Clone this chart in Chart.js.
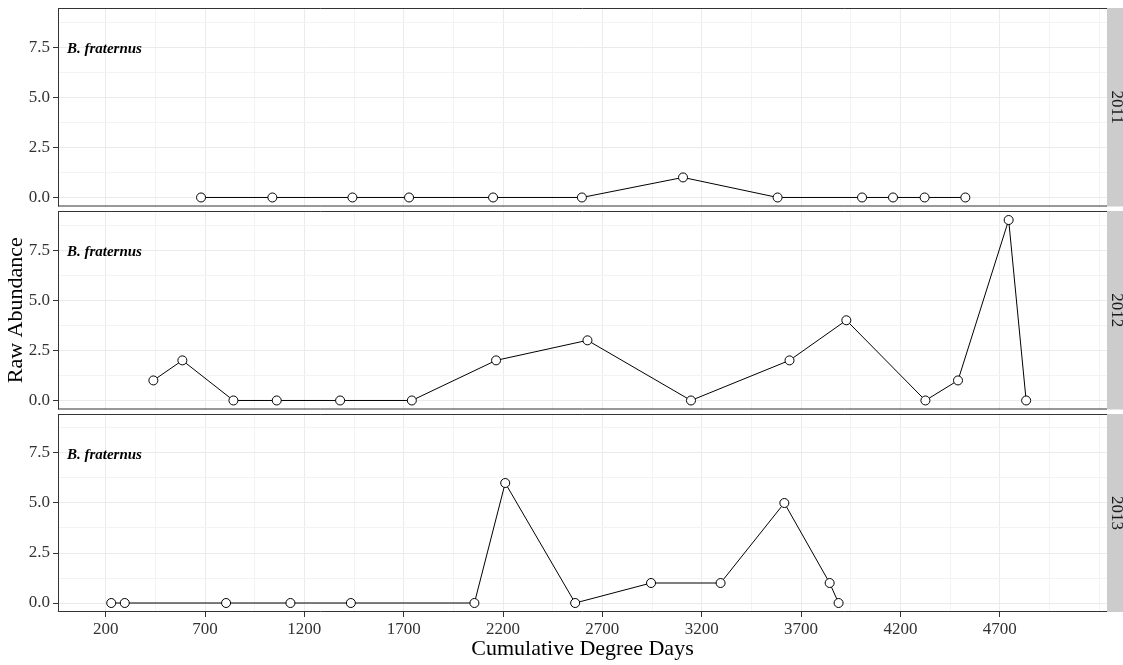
<!DOCTYPE html>
<html>
<head>
<meta charset="utf-8">
<script src="https://cdn.jsdelivr.net/npm/chart.js@4/dist/chart.umd.min.js"></script>
<style>
html,body{margin:0;padding:0;background:#fff;}
#wrap{position:relative;width:1123px;height:665px;overflow:hidden;background:#fff;}
canvas{position:absolute;left:0;}
</style>
</head>
<body>
<div id="wrap">
  <canvas id="c2011" width="1123" height="212" style="top:0px;width:1123px;height:212px"></canvas>
  <canvas id="c2012" width="1123" height="212" style="top:203px;width:1123px;height:212px"></canvas>
  <canvas id="c2013" width="1123" height="259" style="top:406px;width:1123px;height:259px"></canvas>
</div>
<script>
// ---- data ----
const years = ['2011', '2012', '2013'];
const species = 'B. fraternus';

const degreeDays2011 = [680, 1039, 1442, 1727, 2150, 2597, 3106, 3582, 4007, 4163, 4322, 4527];
const abundance2011  = [0, 0, 0, 0, 0, 0, 1, 0, 0, 0, 0, 0];

const degreeDays2012 = [440, 586, 843, 1061, 1380, 1741, 2165, 2625, 3146, 3642, 3928, 4326, 4490, 4745, 4833];
const abundance2012  = [1, 2, 0, 0, 0, 0, 2, 3, 0, 2, 4, 0, 1, 9, 0];

const degreeDays2013 = [228, 296, 806, 1130, 1434, 2056, 2211, 2563, 2945, 3295, 3616, 3844, 3889];
const abundance2013  = [0, 0, 0, 0, 0, 0, 6, 0, 1, 1, 5, 1, 0];

const xTickLabels = [200, 700, 1200, 1700, 2200, 2700, 3200, 3700, 4200, 4700];
const xGridLines  = [200, 450, 700, 950, 1200, 1450, 1700, 1950, 2200, 2450, 2700, 2950, 3200, 3450, 3700, 3950, 4200, 4450, 4700, 4950, 5200];
const yTickLabels = [0, 2.5, 5, 7.5];
const yGridLines  = [0, 1.25, 2.5, 3.75, 5, 6.25, 7.5, 8.75];

const annotationX = 5;
const annotationY = 7.4;

// ---- styling ----
const SERIF = '"Liberation Serif", "Times New Roman", serif';

const panelDecor = {
  id: 'panelDecor',
  afterDraw(chart, args, opts) {
    const ctx = chart.ctx;
    const {left, top, right, bottom} = chart.chartArea;
    ctx.save();
    // strip
    ctx.fillStyle = '#CCCCCC';
    ctx.fillRect(right, top, chart.width - right, bottom - top);
    ctx.fillStyle = '#1A1A1A';
    ctx.font = '17px ' + SERIF;
    ctx.textAlign = 'center';
    ctx.textBaseline = 'middle';
    ctx.translate(right + (chart.width - right) / 2 + 1, (top + bottom) / 2);
    ctx.rotate(Math.PI / 2);
    ctx.fillText(opts.label, 0, 0);
    ctx.restore();

    ctx.save();
    // border (top, left, bottom)
    ctx.strokeStyle = '#333333';
    ctx.lineWidth = 1;
    ctx.beginPath();
    ctx.moveTo(left, top + 0.5); ctx.lineTo(right, top + 0.5);
    ctx.moveTo(left + 0.5, top); ctx.lineTo(left + 0.5, bottom);
    ctx.moveTo(left, bottom - 0.5); ctx.lineTo(right, bottom - 0.5);
    ctx.stroke();
    // annotation
    const xs = chart.scales.x, ys = chart.scales.y;
    ctx.fillStyle = '#000';
    ctx.font = 'italic bold 15px ' + SERIF;
    ctx.textAlign = 'left';
    ctx.textBaseline = 'middle';
    ctx.fillText(species, xs.getPixelForValue(annotationX), ys.getPixelForValue(annotationY));
    ctx.restore();
  }
};

function zeroPad(s) {
  s.paddingTop = 0; s.paddingBottom = 0; s.paddingLeft = 0; s.paddingRight = 0;
}

function makePanel(canvasId, xs, ys, year, isBottom, showYTitle) {
  const pts = xs.map((x, i) => ({x: x, y: ys[i]}));
  return new Chart(document.getElementById(canvasId), {
    type: 'line',
    data: {
      datasets: [{
        data: pts,
        borderColor: '#000',
        borderWidth: 1,
        pointRadius: 4.5,
        pointBackgroundColor: '#fff',
        pointBorderColor: '#000',
        pointBorderWidth: 1,
        tension: 0,
        clip: false
      }]
    },
    options: {
      responsive: false,
      animation: false,
      events: [],
      layout: {padding: {top: 8, bottom: isBottom ? 0 : 2, left: 0, right: 16}},
      plugins: {
        legend: {display: false},
        tooltip: {enabled: false},
        panelDecor: {label: year}
      },
      scales: {
        x: {
          type: 'linear',
          min: -40,
          max: 5240,
          afterBuildTicks: s => { s.ticks = xGridLines.map(v => ({value: v})); },
          afterFit: s => { s.height = isBottom ? 53 : 0; zeroPad(s); },
          border: {display: false},
          grid: {
            color: c => (c.tick && xTickLabels.includes(c.tick.value)) ? '#EBEBEB' : '#F3F3F3',
            lineWidth: 1,
            drawTicks: isBottom,
            tickLength: 5,
            tickColor: c => (c.tick && xTickLabels.includes(c.tick.value)) ? '#333333' : 'rgba(0,0,0,0)'
          },
          ticks: {
            display: isBottom,
            autoSkip: false,
            maxRotation: 0,
            padding: 2,
            color: '#333333',
            font: {family: SERIF, size: 17},
            callback: v => xTickLabels.includes(v) ? String(v) : ''
          },
          title: {
            display: isBottom,
            text: 'Cumulative Degree Days',
            color: '#000',
            font: {family: SERIF, size: 22},
            padding: {top: 0, bottom: 3}
          }
        },
        y: {
          type: 'linear',
          min: -0.45,
          max: 9.45,
          afterBuildTicks: s => { s.ticks = yGridLines.map(v => ({value: v})); },
          afterFit: s => { s.width = 58; zeroPad(s); },
          border: {display: false},
          grid: {
            color: c => (c.tick && yTickLabels.includes(c.tick.value)) ? '#EBEBEB' : '#F3F3F3',
            lineWidth: 1,
            drawTicks: true,
            tickLength: 5,
            tickColor: c => (c.tick && yTickLabels.includes(c.tick.value)) ? '#333333' : 'rgba(0,0,0,0)'
          },
          ticks: {
            autoSkip: false,
            padding: 3,
            color: '#333333',
            font: {family: SERIF, size: 17},
            callback: v => yTickLabels.includes(v) ? v.toFixed(1) : ''
          },
          title: {
            display: showYTitle,
            text: 'Raw Abundance',
            color: '#000',
            font: {family: SERIF, size: 22},
            padding: {top: 3, bottom: 0}
          }
        }
      }
    },
    plugins: [panelDecor]
  });
}

makePanel('c2011', degreeDays2011, abundance2011, years[0], false, false);
makePanel('c2012', degreeDays2012, abundance2012, years[1], false, true);
makePanel('c2013', degreeDays2013, abundance2013, years[2], true, false);
</script>
</body>
</html>
